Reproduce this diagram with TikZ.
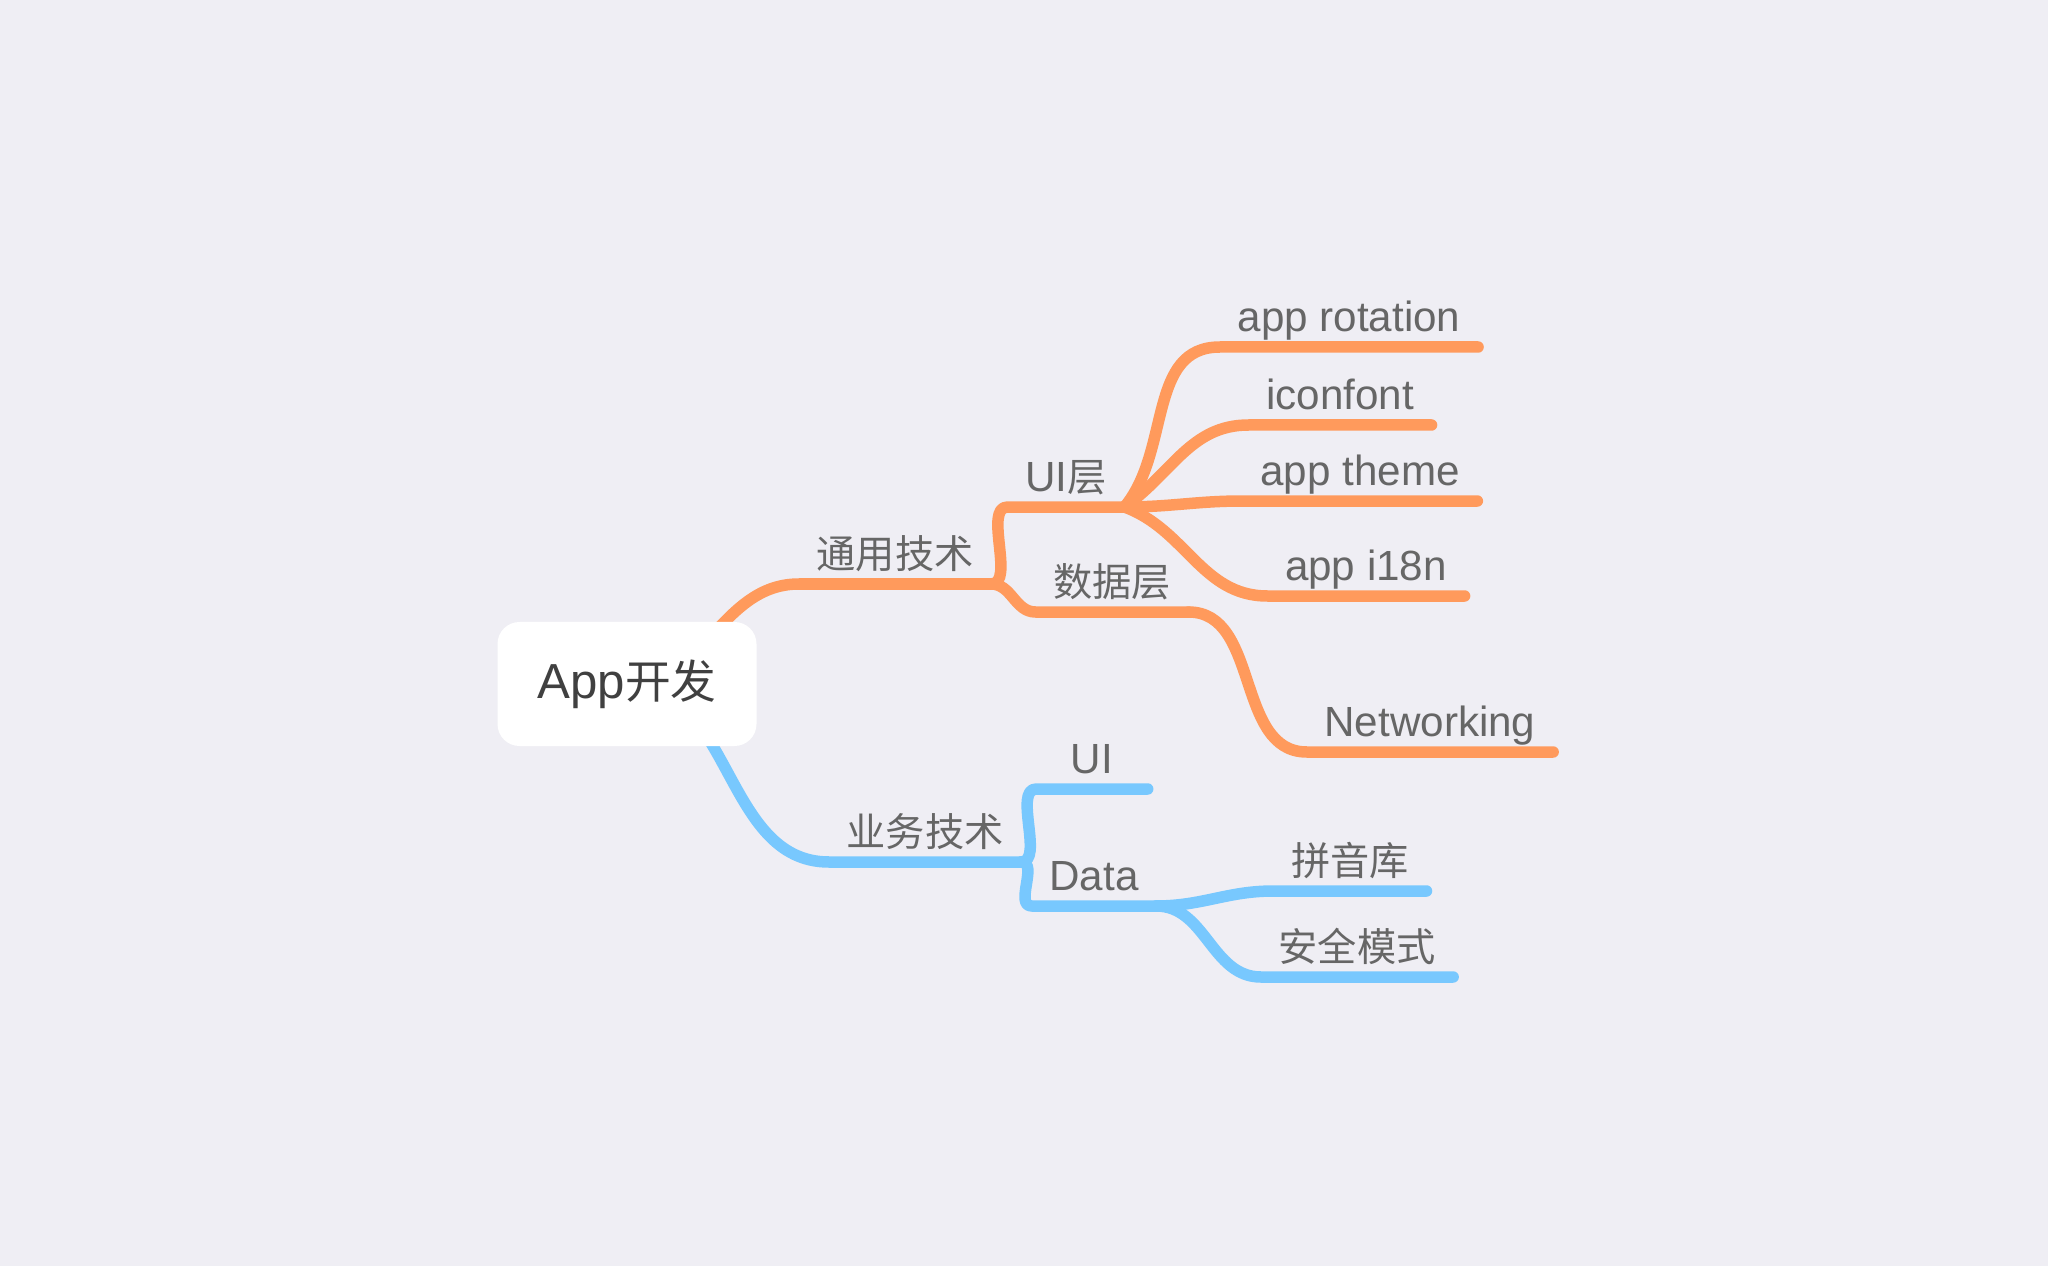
\documentclass[tikz,border=0pt]{standalone}
\usepackage{fontspec}
\setmainfont{Liberation Sans}
\newfontfamily\cjk{Noto Sans CJK SC}[Scale=0.93]
\usepackage{xcolor}
\usepackage{tikz}

\definecolor{paper}{HTML}{EFEEF4}
\definecolor{orbr}{HTML}{FF9A5C}
\definecolor{blbr}{HTML}{78C8FE}
\definecolor{txtgray}{HTML}{666666}
\definecolor{roottxt}{HTML}{404040}

\begin{document}
\begin{tikzpicture}[
  topic/.style={anchor=south,inner xsep=0.17cm,inner ysep=0pt,text height=0.32cm,text depth=0.15cm,minimum width=1.12cm,font=\fontsize{12}{14}\selectfont,text=txtgray},
  root/.style={fill=white,rounded corners=0.22cm,minimum width=2.59cm,minimum height=1.24cm,font=\fontsize{14}{17}\selectfont,text=roottxt},
  orline/.style={line width=0.115cm,line cap=round,line join=round,orbr},
  blline/.style={line width=0.115cm,line cap=round,line join=round,blbr}]
 \useasboundingbox (0,0) rectangle (20.48,12.66);
 \fill[paper] (0,0) rectangle (20.48,12.66);
 \coordinate (rc) at (6.27,5.82);
 % upper branch
 \node[topic] (ty) at (8.95,6.82) {\cjk 通用技术};
 \node[topic] (ui) at (10.66,7.59) {UI{\cjk 层}};
 \node[topic] (sj) at (11.12,6.54) {\cjk 数据层};
 \node[topic] (rot) at (13.49,9.19) {app rotation};
 \node[topic] (icf) at (13.40,8.41) {iconfont};
 \node[topic] (thm) at (13.60,7.65) {app theme};
 \node[topic] (i18) at (13.66,6.70) {app i18n};
 \node[topic] (net) at (14.30,5.14) {Networking};
 % lower branch
 \node[topic] (yw) at (9.25,4.04) {\cjk 业务技术};
 \node[topic,minimum width=1.1cm] (bui) at (10.92,4.77) {UI};
 \node[topic] (dat) at (10.94,3.60) {Data};
 \node[topic] (py) at (13.50,3.75) {\cjk 拼音库};
 \node[topic] (aq) at (13.57,2.89) {\cjk 安全模式};
 \draw[orline] (rc) to[out=0,in=180] (ty.south west) -- (ty.south east);
 \draw[orline] (ty.south east) to[out=0,in=180,looseness=0.8] (ui.south west) -- (ui.south east);
 \foreach \a/\b/\o in {ty/sj/0,ui/rot/50,ui/icf/35,ui/thm/0,ui/i18/-20,sj/net/0}
  \draw[orline] (\a.south east) to[out=\o,in=180] (\b.south west) -- (\b.south east);
 \draw[blline] (rc) to[out=0,in=180] (yw.south west) -- (yw.south east);
 \draw[blline] (yw.south east) to[out=0,in=180,looseness=0.8] (bui.south west) -- (bui.south east);
 \foreach \a/\b in {yw/dat,dat/py,dat/aq}
  \draw[blline] (\a.south east) to[out=0,in=180] (\b.south west) -- (\b.south east);
 \node[root] (root) at (rc) {App{\cjk 开发}};
\end{tikzpicture}
\end{document}
